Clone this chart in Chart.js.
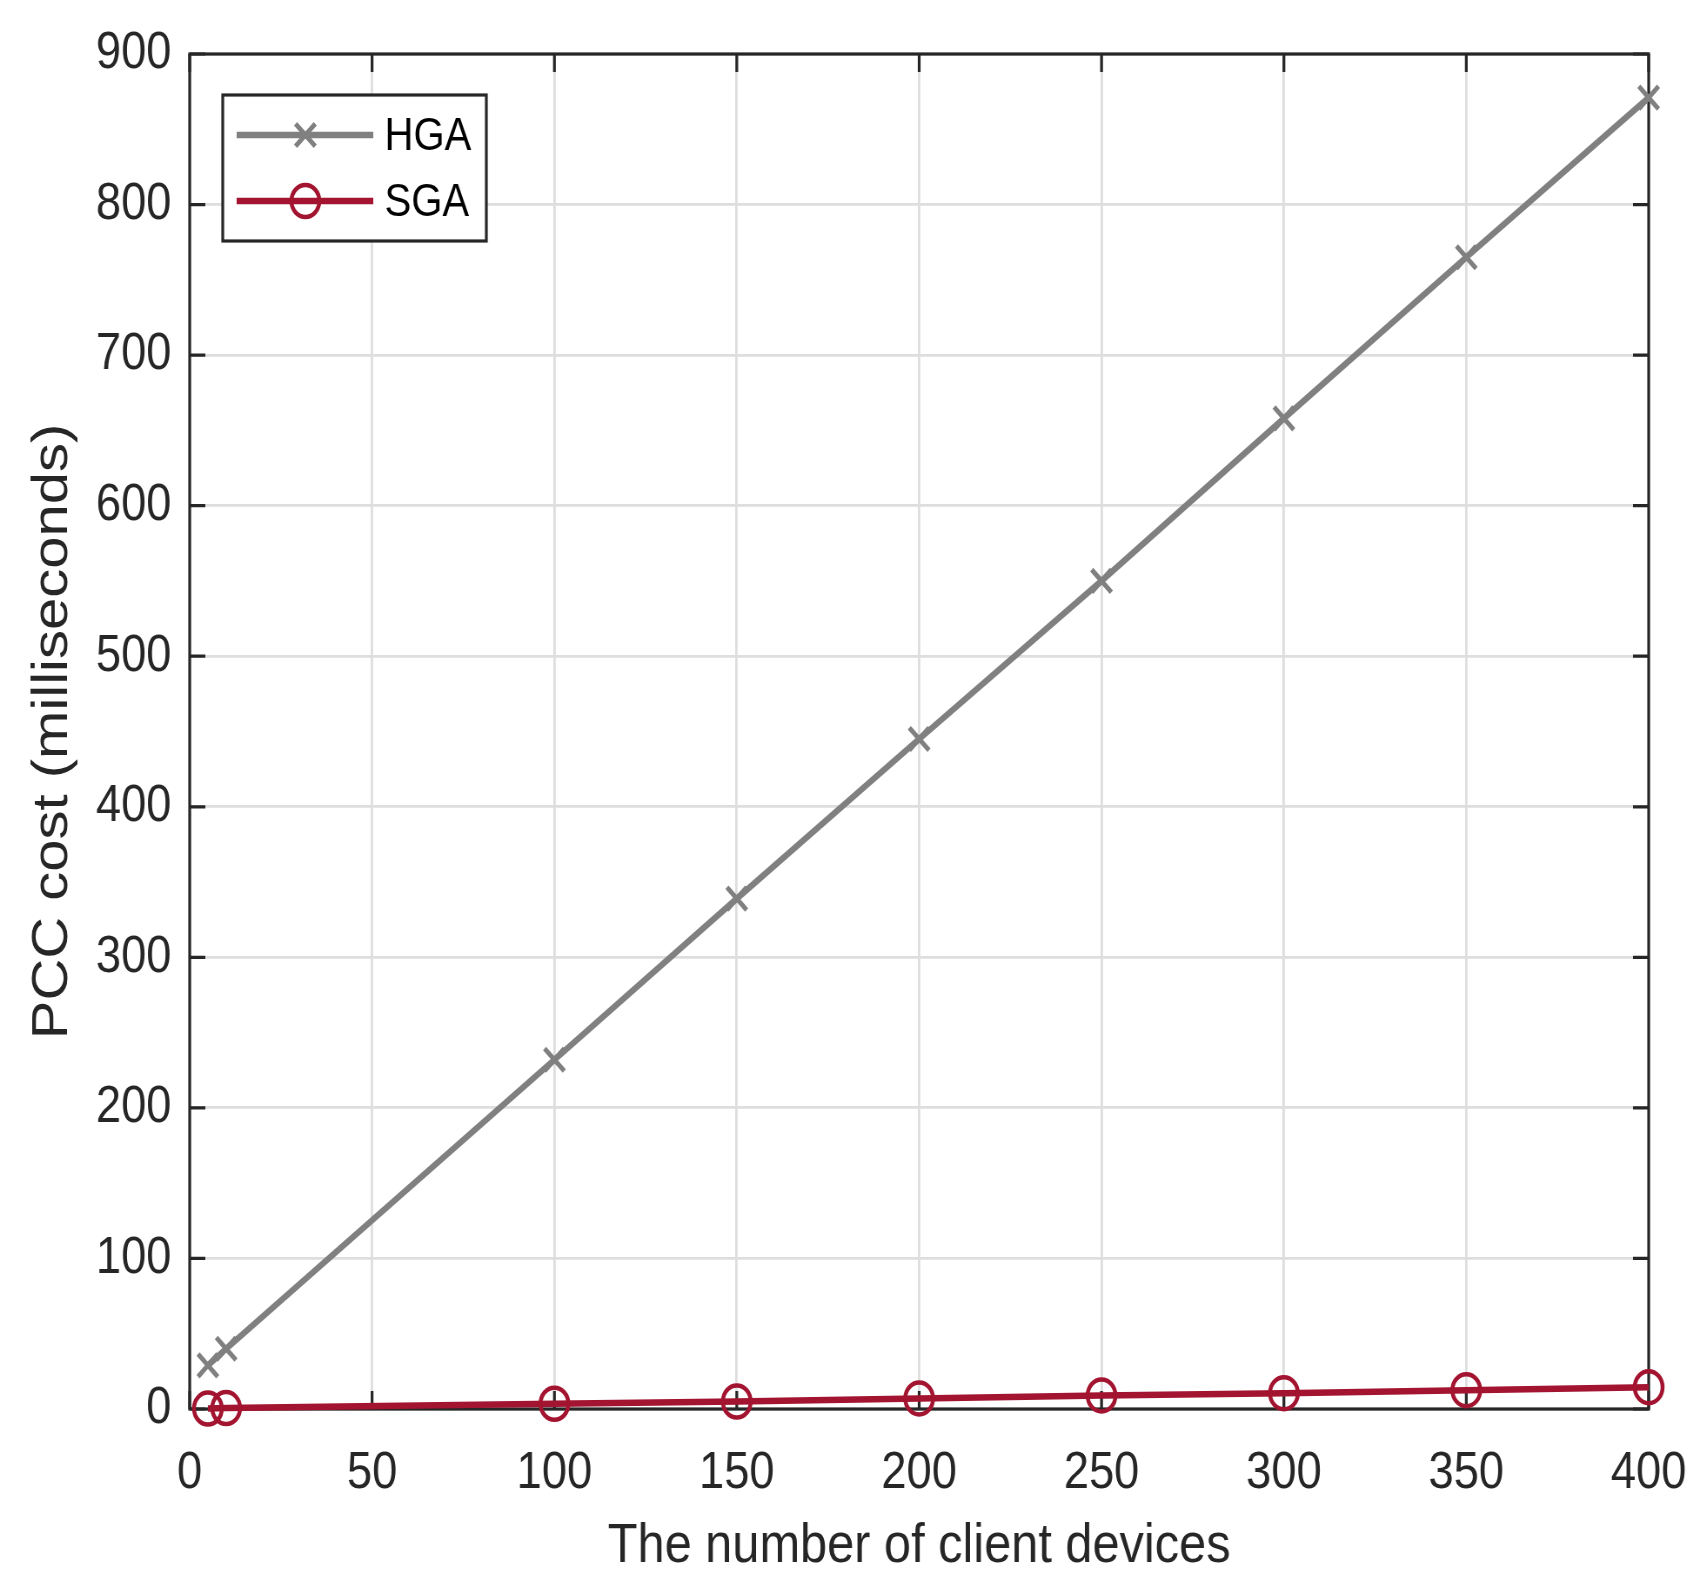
<!DOCTYPE html>
<html>
<head>
<meta charset="utf-8">
<script src="https://cdn.jsdelivr.net/npm/chart.js@4"></script>
<style>
  html, body { margin: 0; padding: 0; background: #fff; overflow: hidden; }
  /* the source figure is squeezed sideways, so the chart is drawn wider and squeezed back */
  #wrap { width: 1952px; height: 1589px; transform: scaleX(0.87); transform-origin: 0 0; }
</style>
</head>
<body>
<div id="wrap"><canvas id="pccChart"></canvas></div>
<script>
// values
const clientDevices = [5, 10, 100, 150, 200, 250, 300, 350, 400];
const hgaCost = [29, 40, 232, 339, 445, 550, 658, 765, 871];
const sgaCost = [0.3, 0.6, 3.5, 5, 7, 9, 10.5, 12.5, 14.5];
const xTickValues = [0, 50, 100, 150, 200, 250, 300, 350, 400];
const yTickValues = [0, 100, 200, 300, 400, 500, 600, 700, 800, 900];

const TEXT = '#262626';
const FONT = '"Liberation Sans", Arial, Helvetica, sans-serif';

const hgaColor = '#808080';
const sgaColor = '#A2142F';

// box frame with inward ticks on all four sides
const framePlugin = {
  id: 'frame',
  beforeDatasetsDraw(chart) {
    const { ctx, chartArea: a, scales: { x, y } } = chart;
    const len = 18;
    ctx.save();
    ctx.strokeStyle = TEXT;
    ctx.lineWidth = 3.2;
    ctx.strokeRect(a.left, a.top, a.right - a.left, a.bottom - a.top);
    ctx.beginPath();
    x.ticks.forEach(t => {
      const px = x.getPixelForValue(t.value);
      ctx.moveTo(px, a.bottom); ctx.lineTo(px, a.bottom - len);
      ctx.moveTo(px, a.top); ctx.lineTo(px, a.top + len);
    });
    y.ticks.forEach(t => {
      const py = y.getPixelForValue(t.value);
      ctx.moveTo(a.left, py); ctx.lineTo(a.left + len, py);
      ctx.moveTo(a.right, py); ctx.lineTo(a.right - len, py);
    });
    ctx.stroke();
    ctx.restore();
  }
};

// legend box in the upper left corner
const legendPlugin = {
  id: 'boxLegend',
  afterDraw(chart) {
    const { ctx } = chart;
    const box = { left: 256, top: 95, width: 303, height: 146 };
    const rows = [135, 201];
    ctx.save();
    ctx.fillStyle = '#fff';
    ctx.fillRect(box.left, box.top, box.width, box.height);
    ctx.strokeStyle = TEXT;
    ctx.lineWidth = 3.2;
    ctx.strokeRect(box.left, box.top, box.width, box.height);
    chart.data.datasets.forEach((ds, i) => {
      const yy = rows[i];
      ctx.strokeStyle = ds.borderColor;
      ctx.lineWidth = ds.borderWidth;
      ctx.beginPath();
      ctx.moveTo(272, yy);
      ctx.lineTo(429, yy);
      ctx.stroke();
      ctx.fillStyle = 'rgba(0,0,0,0)';
      ctx.lineWidth = ds.pointBorderWidth;
      Chart.helpers.drawPoint(ctx, {
        pointStyle: ds.pointStyle,
        radius: ds.pointRadius,
        rotation: 0,
        borderWidth: ds.pointBorderWidth
      }, 351, yy);
      ctx.fillStyle = '#000';
      ctx.font = '46px ' + FONT;
      ctx.textBaseline = 'middle';
      ctx.textAlign = 'left';
      ctx.fillText(ds.label, 442, yy + 2);
    });
    ctx.restore();
  }
};

const ctx = document.getElementById('pccChart').getContext('2d');
new Chart(ctx, {
  type: 'line',
  data: {
    datasets: [
      {
        label: 'HGA',
        data: clientDevices.map((n, i) => ({ x: n, y: hgaCost[i] })),
        borderColor: hgaColor,
        backgroundColor: hgaColor,
        borderWidth: 6.5,
        pointStyle: 'crossRot',
        pointRadius: 16,
        pointBorderWidth: 5,
        pointBorderColor: hgaColor,
        pointBackgroundColor: 'rgba(0,0,0,0)',
        clip: false
      },
      {
        label: 'SGA',
        data: clientDevices.map((n, i) => ({ x: n, y: sgaCost[i] })),
        borderColor: sgaColor,
        backgroundColor: sgaColor,
        borderWidth: 6.5,
        pointStyle: 'circle',
        pointRadius: 16,
        pointBorderWidth: 4.5,
        pointBorderColor: sgaColor,
        pointBackgroundColor: 'rgba(0,0,0,0)',
        clip: false
      }
    ]
  },
  options: {
    responsive: true,
    maintainAspectRatio: false,
    animation: false,
    layout: { padding: { top: 54, right: 57, left: 0, bottom: 0 } },
    plugins: {
      legend: { display: false },
      tooltip: { enabled: false }
    },
    scales: {
      x: {
        type: 'linear',
        min: 0,
        max: 400,
        afterBuildTicks: s => { s.ticks = xTickValues.map(v => ({ value: v })); },
        afterFit: s => { s.height = 180; s.paddingLeft = 0; s.paddingRight = 0; },
        grid: { color: '#dedede', lineWidth: 2.8, drawTicks: false },
        border: { display: false },
        ticks: {
          color: TEXT,
          padding: 33,
          maxRotation: 0,
          font: { family: FONT, size: 52 }
        },
        title: {
          display: true,
          text: 'The number of client devices',
          color: TEXT,
          font: { family: FONT, size: 56 },
          padding: { top: 0, bottom: 9 }
        }
      },
      y: {
        type: 'linear',
        min: 0,
        max: 900,
        afterBuildTicks: s => { s.ticks = yTickValues.map(v => ({ value: v })); },
        afterFit: s => { s.width = 218; s.paddingTop = 0; s.paddingBottom = 0; },
        grid: { color: '#dedede', lineWidth: 2.8, drawTicks: false },
        border: { display: false },
        ticks: {
          color: TEXT,
          padding: 21,
          font: { family: FONT, size: 52 }
        },
        title: {
          display: true,
          text: 'PCC cost (milliseconds)',
          color: TEXT,
          font: { family: FONT, size: 58 },
          padding: { top: 26, bottom: 0 }
        }
      }
    }
  },
  plugins: [framePlugin, legendPlugin]
});
</script>
</body>
</html>
